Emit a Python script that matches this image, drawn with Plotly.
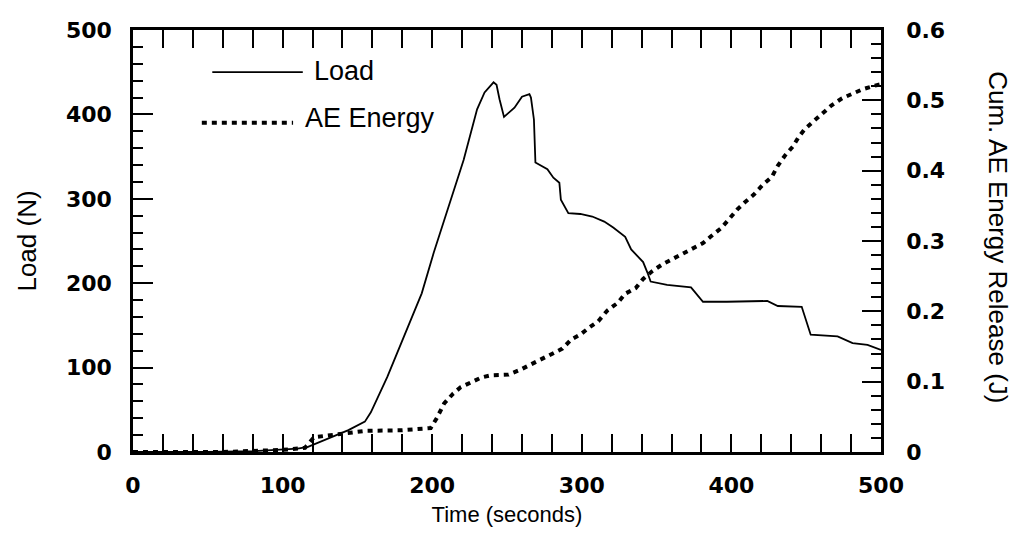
import plotly.graph_objects as go

# ---- data ----
load_t = [0, 50, 80, 100, 110, 117, 125, 133, 144, 155, 159, 170, 181, 193, 201, 211, 221, 230, 235,
          241, 243, 245, 248, 255, 260, 265, 266, 268, 269, 277, 281, 285, 286, 291, 299, 307, 315,
          321, 329, 333, 341, 344, 346, 357, 373, 381, 397, 424, 431, 447, 453, 471, 481, 491, 500]
load_n = [0, 0, 1, 3, 4, 6, 12, 18, 26, 36, 47, 89, 136, 188, 236, 291, 346, 406, 426,
          438, 435, 418, 397, 408, 421, 424, 420, 394, 343, 335, 325, 319, 299, 283, 282, 279, 273,
          266, 255, 240, 225, 212, 202, 198, 195, 178, 178, 179, 173, 172, 139, 137, 129, 127, 121]

ae_t = [0, 60, 100, 115, 121, 133, 144, 155, 180, 199, 203, 208, 214, 219, 226, 233, 239, 251,
        259, 267, 274, 281, 287, 293, 299, 305, 311, 317, 324, 329, 336, 341, 347, 354, 361, 367,
        374, 381, 386, 393, 398, 404, 409, 415, 421, 427, 431, 436, 441, 445, 449, 456, 461, 467,
        474, 481, 488, 496, 500]
ae_j = [0, 0, 0.003, 0.006, 0.021, 0.024, 0.028, 0.030, 0.031, 0.034, 0.048, 0.069, 0.083, 0.092,
        0.099, 0.106, 0.109, 0.110, 0.117, 0.126, 0.133, 0.141, 0.147, 0.160, 0.167, 0.177, 0.186,
        0.201, 0.212, 0.225, 0.233, 0.246, 0.257, 0.267, 0.275, 0.282, 0.290, 0.297, 0.306, 0.318,
        0.330, 0.345, 0.355, 0.366, 0.380, 0.391, 0.407, 0.422, 0.434, 0.448, 0.459, 0.472, 0.483,
        0.493, 0.503, 0.510, 0.516, 0.521, 0.523]

x_range = [0, 500]
y_range = [0, 500]
y2_range = [0, 0.6]
x_major, x_minor = 100, 20
y_major, y_minor = 100, 20
y2_major, y2_minor = 0.1, 0.02

DOT = "5px,5px"
TICKFONT = dict(family="DejaVu Sans", size=22, color="black", weight="bold")
TITLEFONT = "Liberation Sans"

fig = go.Figure()
fig.add_trace(go.Scatter(x=load_t, y=load_n, mode="lines", name="Load",
                         line=dict(color="black", width=1.8), yaxis="y"))
fig.add_trace(go.Scatter(x=ae_t, y=ae_j, mode="lines", name="AE Energy",
                         line=dict(color="black", width=4, dash=DOT), yaxis="y2"))

fig.update_layout(
    width=1021, height=545,
    margin=dict(l=133, r=140, t=30, b=93),
    paper_bgcolor="white", plot_bgcolor="white",
    showlegend=False,
    xaxis=dict(range=x_range, tickmode="linear", tick0=0, dtick=x_major, ticks="inside",
               ticklen=18, tickwidth=2, tickcolor="black", showline=True, linecolor="black",
               linewidth=2.5, mirror="allticks", showgrid=False, zeroline=False, tickfont=TICKFONT,
               automargin=False, ticklabelstandoff=12,
               minor=dict(tick0=0, dtick=x_minor, ticks="inside", ticklen=8, tickwidth=1.5,
                          tickcolor="black", showgrid=False),
               title=dict(text="Time (seconds)", font=dict(family=TITLEFONT, size=22, color="black"),
                          standoff=10)),
    yaxis=dict(range=y_range, tickmode="linear", tick0=0, dtick=y_major, ticks="inside",
               ticklen=20, tickwidth=2, tickcolor="black", showline=True, linecolor="black",
               linewidth=2.5, mirror=False, showgrid=False, zeroline=False, tickfont=TICKFONT,
               automargin=False, ticklabelstandoff=14,
               minor=dict(tick0=0, dtick=y_minor, ticks="inside", ticklen=10, tickwidth=1.5,
                          tickcolor="black", showgrid=False),
               title=dict(text="Load (N)", font=dict(family=TITLEFONT, size=26, color="black"),
                          standoff=22)),
    yaxis2=dict(range=y2_range, tickmode="linear", tick0=0, dtick=y2_major, overlaying="y",
                side="right", ticks="inside", ticklen=19, tickwidth=2, tickcolor="black",
                showline=True, linecolor="black", linewidth=2.5, showgrid=False, zeroline=False,
                tickfont=TICKFONT, automargin=False, ticklabelstandoff=18,
                minor=dict(tick0=0, dtick=y2_minor, ticks="inside", ticklen=10, tickwidth=1.5,
                           tickcolor="black", showgrid=False)),
)

# right-hand axis title (reads top to bottom)
fig.add_annotation(text="Cum. AE Energy Release (J)", xref="paper", yref="paper",
                   x=1.18, y=0.51, showarrow=False, textangle=90,
                   font=dict(family=TITLEFONT, size=26, color="black"))

# legend drawn inside the plot, upper left
fig.add_shape(type="line", xref="paper", yref="paper", x0=0.106, x1=0.227, y0=0.900, y1=0.900,
              line=dict(color="black", width=1.8))
fig.add_annotation(text="Load", xref="paper", yref="paper", x=0.239, y=0.903, xanchor="left",
                   yanchor="middle", showarrow=False,
                   font=dict(family=TITLEFONT, size=27, color="black"))
fig.add_shape(type="line", xref="paper", yref="paper", x0=0.092, x1=0.214, y0=0.780, y1=0.780,
              line=dict(color="black", width=4, dash=DOT))
fig.add_annotation(text="AE Energy", xref="paper", yref="paper", x=0.227, y=0.792, xanchor="left",
                   yanchor="middle", showarrow=False,
                   font=dict(family=TITLEFONT, size=27, color="black"))

fig.write_html("out.html")
